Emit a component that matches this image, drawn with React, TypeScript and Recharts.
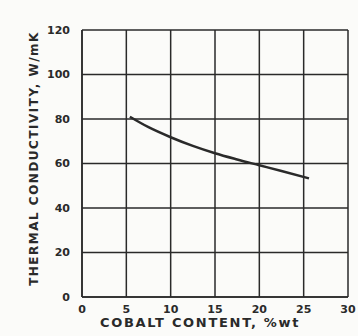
import * as React from "react"
import { LineChart, Line, XAxis, YAxis, CartesianGrid, Label } from "recharts"

const cobaltContent = [5.4, 7.5, 10, 12.5, 15, 17.5, 20, 22.5, 25.6]
const thermalConductivity = [81, 76.3, 71.8, 67.9, 64.6, 61.8, 59.2, 56.6, 53.3]
const xTicks = [0, 5, 10, 15, 20, 25, 30]
const yTicks = [0, 20, 40, 60, 80, 100, 120]

const data = cobaltContent.map((x, i) => ({ x, y: thermalConductivity[i] }))

const ink = "#2a2a2a"
const font = "'DejaVu Sans', sans-serif"

export default function App() {
  return (
    <div style={{ position: "absolute", left: 0, top: 0, background: "#fbfbf9", fontFamily: font }}>
      <LineChart width={358} height={336} data={data} margin={{ top: 30, right: 10, left: 0, bottom: 0 }}>
        <CartesianGrid stroke={ink} strokeWidth={1.5} horizontalValues={yTicks} verticalValues={xTicks} />
        <XAxis
          dataKey="x"
          type="number"
          domain={[0, 30]}
          ticks={xTicks}
          height={39}
          tickLine={false}
          axisLine={{ stroke: ink, strokeWidth: 1.5 }}
          tick={{ fill: ink, fontSize: 11, fontWeight: "bold", fontFamily: font }}
          tickMargin={2}
        >
          <Label
            value="COBALT CONTENT, %wt"
            position="insideBottom"
            offset={9}
            dx={-15}
            style={{ fill: ink, fontSize: 13, fontWeight: "bold", letterSpacing: 1.7, fontFamily: font }}
          />
        </XAxis>
        <YAxis
          type="number"
          domain={[0, 120]}
          ticks={yTicks}
          width={82}
          tickLine={false}
          axisLine={{ stroke: ink, strokeWidth: 1.5 }}
          tick={{ fill: ink, fontSize: 11, fontWeight: "bold", fontFamily: font }}
          tickMargin={6}
        >
          <Label
            value="THERMAL CONDUCTIVITY, W/mK"
            angle={-90}
            position="insideLeft"
            offset={34}
            dy={-5}
            style={{ textAnchor: "middle", fill: ink, fontSize: 12, fontWeight: "bold", letterSpacing: 1.5, fontFamily: font }}
          />
        </YAxis>
        <Line
          type="monotone"
          dataKey="y"
          stroke={ink}
          strokeWidth={2.5}
          dot={false}
          isAnimationActive={false}
        />
      </LineChart>
    </div>
  )
}
